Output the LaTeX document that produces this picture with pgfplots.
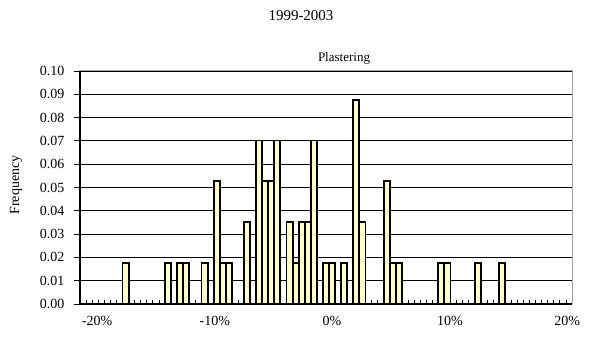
\documentclass[border=0pt]{standalone}
\usepackage{fontspec}
\setmainfont{Liberation Serif}
\usepackage{pgfplots}
\pgfplotsset{compat=1.18}
\definecolor{barfill}{HTML}{FFFFCC}
\pgfplotstableread{
x y
7.5 0.01754
14.5 0.01754
16.5 0.01754
17.5 0.01754
20.5 0.01754
22.5 0.05263
23.5 0.01754
24.5 0.01754
27.5 0.03509
29.5 0.07018
30.5 0.05263
31.5 0.05263
32.5 0.07018
34.5 0.03509
35.5 0.01754
36.5 0.03509
37.5 0.03509
38.5 0.07018
40.5 0.01754
41.5 0.01754
43.5 0.01754
45.5 0.08772
46.5 0.03509
50.5 0.05263
51.5 0.01754
52.5 0.01754
59.5 0.01754
60.5 0.01754
65.5 0.01754
69.5 0.01754
}\datatable
\begin{document}
\begin{tikzpicture}[x=1pt,y=1pt]
\useasboundingbox (0,0) rectangle (590,343);
\node[font=\fontsize{15}{17}\selectfont] at (301,327) {1999-2003};
\node[font=\fontsize{13}{15}\selectfont] at (344,285) {Plastering};
\node[font=\fontsize{14}{16}\selectfont, rotate=90] at (16,158) {Frequency};
\begin{axis}[
  at={(80pt,39pt)}, anchor=south west,
  width=492pt, height=233pt, scale only axis,
  xmin=0, xmax=81, ymin=0, ymax=0.1,
  ytick={0,0.01,0.02,0.03,0.04,0.05,0.06,0.07,0.08,0.09,0.1},
  yticklabels={0.00,0.01,0.02,0.03,0.04,0.05,0.06,0.07,0.08,0.09,0.10},
  xtick={2.8,22.2,41.5,60.9,80.2},
  xticklabels={-20\%,-10\%,0\%,10\%,20\%},
  minor xtick={1,2,...,80},
  xtick pos=bottom, ytick pos=left,
  ytick align=outside,
  major x tick style={draw=none},
  minor x tick style={black, line width=0.8pt},
  minor tick length=4pt,
  major y tick style={black, line width=0.8pt},
  major tick length=6pt,
  ymajorgrids,
  major grid style={black, line width=0.8pt},
  axis line style={gray!70, line width=1pt},
  tick label style={font=\fontsize{14}{16}\selectfont},
  yticklabel style={xshift=-6pt},
  xticklabel style={yshift=-9pt},
  /pgf/number format/assume math mode=true,
  clip=false,
]
\addplot[ybar, bar width=1, fill=barfill, draw=black, line width=1.9pt] table[x=x,y=y] {\datatable};
\draw[black, line width=1.5pt] (rel axis cs:0,1) -- (rel axis cs:0,0) -- (rel axis cs:1,0);
\end{axis}
\end{tikzpicture}
\end{document}
